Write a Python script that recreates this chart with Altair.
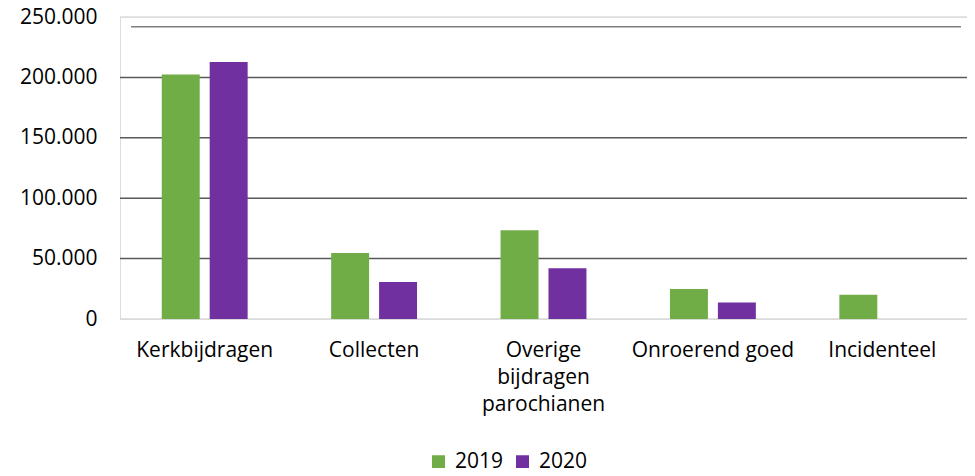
import altair as alt
import pandas as pd

categories = ["Kerkbijdragen", "Collecten", "Overige bijdragen parochianen", "Onroerend goed", "Incidenteel"]
years = ["2019", "2020"]
values_2019 = [202300, 54700, 73400, 24900, 20000]
values_2020 = [212800, 30700, 42000, 13600, None]
y_ticks = [0, 50000, 100000, 150000, 200000, 250000]
grid_colors = ["#d9d9d9", "#595959", "#595959", "#595959", "#595959", "#dcdcdc"]
bar_colors = ["#70AD47", "#7030A0"]

rows = []
for c, v1, v2 in zip(categories, values_2019, values_2020):
    if v1 is not None:
        rows.append({"categorie": c, "jaar": years[0], "waarde": v1})
    if v2 is not None:
        rows.append({"categorie": c, "jaar": years[1], "waarde": v2})
df = pd.DataFrame(rows)
grid_df = pd.DataFrame({"v": y_ticks, "c": grid_colors})

FONT = "Open Sans"
FS = 21
yscale = alt.Scale(domain=[0, 250000], nice=False)
yaxis = alt.Axis(
    values=y_ticks,
    grid=False,
    ticks=False,
    domain=False,
    labelFontSize=FS,
    labelPadding=23,
    labelColor="#000000",
    labelFont=FONT,
    labelExpr="datum.value == 0 ? '0' : format(datum.value / 1000, 'd') + '.000'",
)

grid = alt.Chart(grid_df).mark_rule(strokeWidth=1.5).encode(
    y=alt.Y("v:Q", scale=yscale, axis=yaxis, title=None),
    stroke=alt.Stroke("c:N", scale=None),
)

extra_line = alt.Chart(pd.DataFrame({"a": [0]})).mark_rule(color="#7f7f7f", strokeWidth=1.5).encode(
    y=alt.datum(242000),
    x=alt.value(11),
    x2=alt.value(841),
)

border = alt.Chart(pd.DataFrame({"a": [0]})).mark_rule(color="#8c8c8c", strokeWidth=2).encode(
    x=alt.value(-117),
    y=alt.value(-17),
    y2=alt.value(460),
)

bars = alt.Chart(df).mark_bar().encode(
    x=alt.X(
        "categorie:N",
        sort=categories,
        scale=alt.Scale(paddingInner=0.493, paddingOuter=0.2465),
        title=None,
        axis=alt.Axis(
            labelAngle=0,
            labelFontSize=FS,
            labelPadding=20,
            labelLineHeight=27,
            labelExpr="datum.label == 'Overige bijdragen parochianen' ? split(datum.label, ' ') : datum.label",
            ticks=False,
            domain=False,
            labelColor="#000000",
            labelFont=FONT,
        ),
    ),
    xOffset=alt.XOffset("jaar:N", scale=alt.Scale(paddingInner=0.208, paddingOuter=0)),
    y=alt.Y("waarde:Q", scale=yscale, title=None, axis=yaxis),
    color=alt.Color(
        "jaar:N",
        scale=alt.Scale(domain=years, range=bar_colors),
        legend=alt.Legend(
            orient="none",
            legendX=308,
            legendY=434,
            direction="horizontal",
            title=None,
            symbolType="square",
            symbolSize=169,
            symbolStrokeWidth=0,
            labelFontSize=FS,
            labelFont=FONT,
            labelColor="#000000",
            labelOffset=6,
            columnPadding=8,
        ),
    ),
)

chart = alt.layer(grid, extra_line, border, bars).properties(
    width=847,
    height=302,
    autosize=alt.AutoSizeParams(type="none"),
    padding={"left": 112, "top": 9, "right": 0, "bottom": 149},
).configure_view(stroke=None).configure(font=FONT, background="#ffffff")

chart.save("out.html", embed_options={"renderer": "svg", "actions": False})
